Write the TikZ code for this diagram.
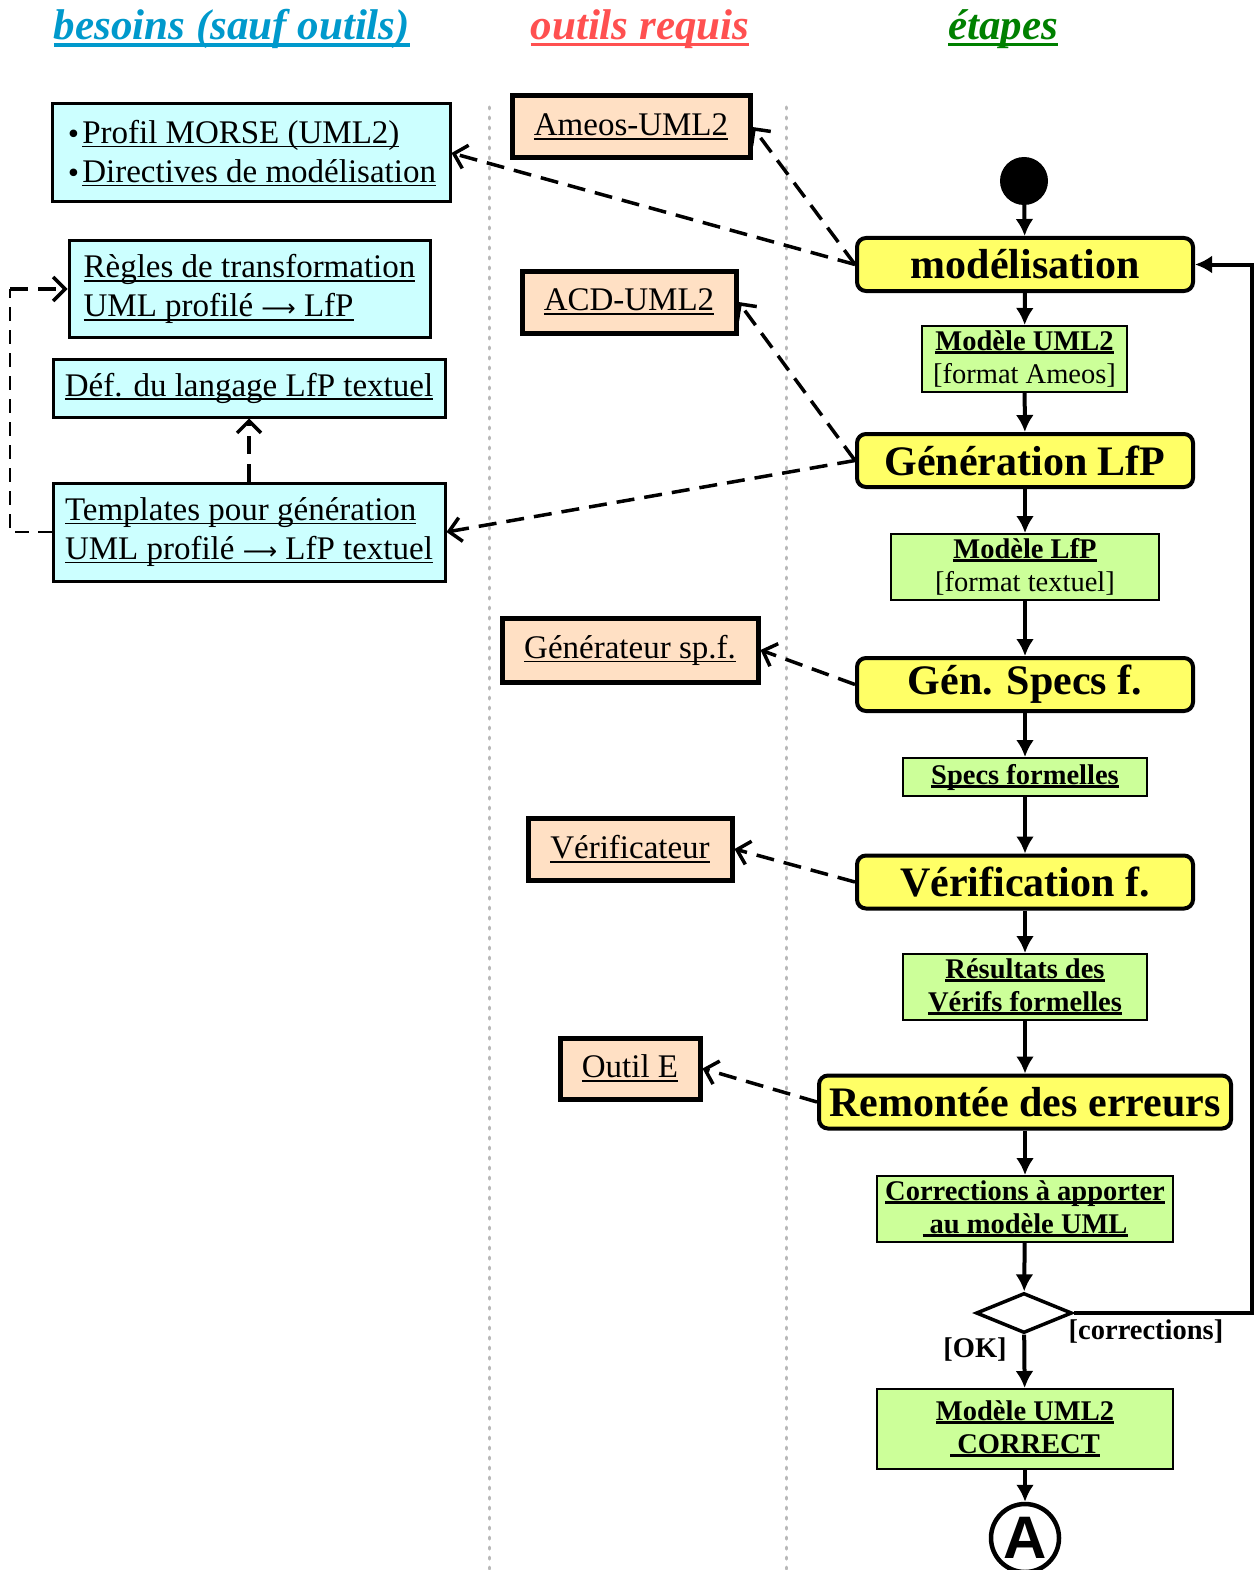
\documentclass[tikz,border=0pt]{standalone}
\usepackage{fontspec}
\setmainfont{Liberation Serif}
\newfontfamily\sansA{Liberation Sans}
\newfontfamily\flechefont{DejaVu Sans}
\usetikzlibrary{arrows.meta,shapes.geometric}
\definecolor{besoin}{HTML}{CCFFFF}
\definecolor{outil}{HTML}{FFE0C4}
\definecolor{etape}{HTML}{FFFF66}
\definecolor{produit}{HTML}{CCFF99}
\definecolor{tbleu}{HTML}{0099CC}
\definecolor{trouge}{HTML}{FF5050}
\definecolor{tvert}{HTML}{008000}
\newcommand\undl[3][4]{{\setbox0=\hbox{#3}\rlap{\usebox0}\rule[-#1pt]{\wd0}{#2pt}}}
\newcommand\fleche{{\flechefont\fontsize{24}{24}\selectfont ⟶}}
\newcommand\puce{{\flechefont\fontsize{26}{26}\selectfont •}}
\begin{document}
\begin{tikzpicture}[x=1pt,y=-1pt,
  besoinbox/.style={draw,line width=3pt,fill=besoin,align=left,inner sep=0pt,font=\fontsize{33}{39}\selectfont},
  outilbox/.style={draw,line width=5pt,fill=outil,inner sep=0pt,font=\fontsize{33}{39}\selectfont},
  etapebox/.style={draw,line width=4pt,fill=etape,rounded corners=9pt,inner sep=0pt,minimum width=336pt,minimum height=53pt,font=\fontsize{42}{46}\selectfont\bfseries},
  produitbox/.style={draw,line width=2pt,fill=produit,align=center,inner sep=0pt,font=\fontsize{28.5}{33}\selectfont},
  flow/.style={line width=4pt,-{Latex[length=17pt,width=18pt]}},
  dep/.style={line width=3.5pt,dash pattern=on 18pt off 10pt,-{Straight Barb[length=12pt,width=24pt]}},
  sep/.style={line width=3pt,gray!55,dash pattern=on 2pt off 8pt,line cap=round},
  titre/.style={font=\fontsize{43}{48}\selectfont\bfseries\itshape}]
\useasboundingbox (0,0) rectangle (1258,1570);

\node[titre,text=tbleu] (t1) at (232,29) {\undl[7]{3.5}{besoins (sauf outils)}};
\node[titre,text=trouge] (t2) at (640,29) {\undl[7]{3.5}{outils requis}};
\node[titre,text=tvert] (t3) at (1003,29) {\undl[7]{3.5}{étapes}};

\draw[sep] (489,107) -- (489,1570);
\draw[sep] (786,107) -- (786,1570);

\node[besoinbox,minimum width=398pt,minimum height=98pt] (besoin1) at (251,153)
  {\puce\kern1pt\undl{1.6}{Profil MORSE (UML2)}\\\puce\kern1pt\undl{1.6}{Directives de modélisation}};
\node[besoinbox,minimum width=361pt,minimum height=96pt] (regles) at (249.5,289)
  {\undl{1.6}{Règles de transformation}\\\undl{1.6}{UML profilé \fleche\ LfP}};
\node[besoinbox,minimum width=392pt,minimum height=58pt] (def) at (249,388)
  {\undl{1.6}{Déf. du langage LfP textuel}};
\node[besoinbox,minimum width=392pt,minimum height=98pt] (templ) at (249,532)
  {\undl{1.6}{Templates pour génération}\\\undl{1.6}{UML profilé \fleche\ LfP textuel}};

\node[outilbox,minimum width=238pt,minimum height=62pt] (ameos) at (631,127) {\undl{1.6}{Ameos-UML2}};
\node[outilbox,minimum width=214pt,minimum height=62pt] (acd) at (629,302) {\undl{1.6}{ACD-UML2}};
\node[outilbox,minimum width=256pt,minimum height=64pt] (gensp) at (630,650) {\undl{1.6}{Générateur sp.f.}};
\node[outilbox,minimum width=204pt,minimum height=62pt] (verifo) at (630,849) {\undl{1.6}{Vérificateur}};
\node[outilbox,minimum width=140pt,minimum height=61pt] (outilE) at (630,1068.5) {\undl{1.6}{Outil E}};

\node[circle,fill,minimum size=48pt,inner sep=0pt] (debut) at (1024,181) {};
\node[etapebox] (model) at (1025,264.5) {modélisation};
\node[produitbox,minimum width=205pt,minimum height=66pt] (pUML) at (1024.5,359)
  {\bfseries\undl[3.5]{3}{Modèle UML2}\\{[format Ameos]}};
\node[etapebox] (genLfP) at (1025,460.5) {Génération LfP};
\node[produitbox,minimum width=268pt,minimum height=66pt] (pLfP) at (1025,567)
  {\bfseries\undl[3.5]{3}{Modèle LfP}\\{[format textuel]}};
\node[etapebox] (genSpec) at (1025,684.5) {Gén. Specs f.};
\node[produitbox,minimum width=244pt,minimum height=38pt] (pSpec) at (1025,777)
  {\bfseries\undl[3.5]{3}{Specs formelles}};
\node[etapebox] (verifE) at (1025,882) {Vérification f.};
\node[produitbox,minimum width=244pt,minimum height=66pt,font=\fontsize{28.5}{33}\selectfont\bfseries] (pRes) at (1025,987)
  {\undl[3.5]{3}{Résultats des}\\\undl[3.5]{3}{Vérifs formelles}};
\node[etapebox,minimum width=412pt] (remont) at (1025,1102) {Remontée des erreurs};
\node[produitbox,minimum width=296pt,minimum height=66pt,font=\fontsize{28.5}{33}\selectfont\bfseries] (pCorr) at (1025,1209)
  {\undl[3.5]{3}{Corrections à apporter}\\\undl[3.5]{3}{~au modèle UML}};
\node[diamond,draw,line width=3.5pt,fill=white,minimum width=96pt,minimum height=40pt,inner sep=0pt] (choix) at (1024,1313) {};
\node[produitbox,minimum width=296pt,minimum height=80pt,font=\fontsize{28.5}{33}\selectfont\bfseries] (pOK) at (1025,1429)
  {\undl[3.5]{3}{Modèle UML2}\\\undl[3.5]{3}{~CORRECT}};
\node[circle,draw,line width=4.5pt,fill=white,minimum size=68pt,inner sep=0pt,font=\fontsize{60}{60}\sansA\bfseries] (fin) at (1025,1538) {A};

\node[font=\fontsize{28.5}{30}\selectfont\bfseries] (lok) at (975,1350) {[OK]};
\node[font=\fontsize{28.5}{30}\selectfont\bfseries] (lcorr) at (1146,1332) {[corrections]};

\draw[flow] (debut) -- (model);
\draw[flow] (model) -- (pUML);
\draw[flow] (pUML) -- (genLfP);
\draw[flow] (genLfP) -- (pLfP);
\draw[flow] (pLfP) -- (genSpec);
\draw[flow] (genSpec) -- (pSpec);
\draw[flow] (pSpec) -- (verifE);
\draw[flow] (verifE) -- (pRes);
\draw[flow] (pRes) -- (remont);
\draw[flow] (remont) -- (pCorr);
\draw[flow] (pCorr) -- (choix);
\draw[flow] (choix) -- (pOK);
\draw[flow] (pOK) -- (fin);
\coordinate (retour) at (1252,1313);
\draw[flow] (choix.east) -- (retour) |- (model.east);

\draw[dep] (model.west) -- (besoin1.east);
\draw[dep] (model.west) -- (ameos.east);
\draw[dep] (genLfP.west) -- (acd.east);
\draw[dep] (genLfP.west) -- (templ.east);
\draw[dep] (genSpec.west) -- (gensp.east);
\draw[dep] (verifE.west) -- (verifo.east);
\draw[dep] (remont.west) -- (outilE.east);
\draw[dep] (templ.north) -- (def.south);

\coordinate (gb) at (10,532);
\coordinate (gh) at (10,289);
\draw[line width=2pt,dash pattern=on 14pt off 9pt] (templ.west) -- (gb) -- (gh);
\draw[dep] (gh) -- (regles.west);
\end{tikzpicture}
\end{document}
